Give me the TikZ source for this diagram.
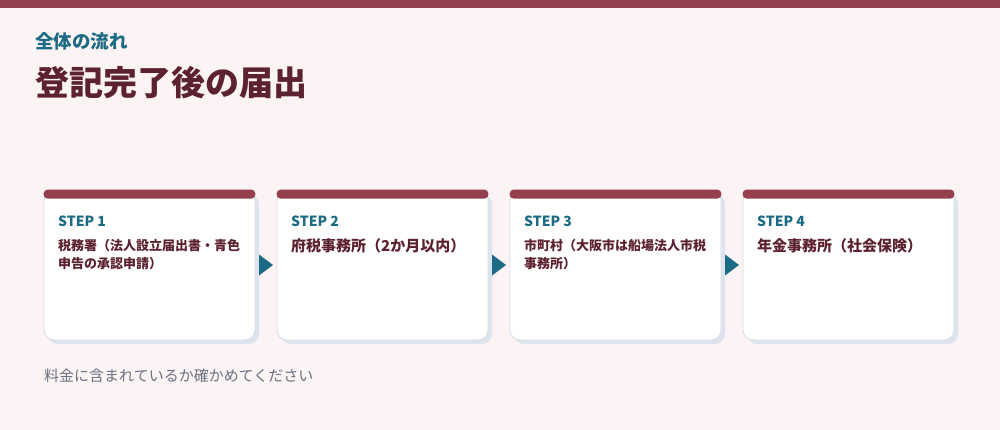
\documentclass[tikz,border=0pt]{standalone}
\usepackage{fontspec}
\setmainfont{Noto Sans CJK JP}
\usetikzlibrary{calc,shadows}
\definecolor{pagebg}{HTML}{FCF3F5}
\definecolor{barmaroon}{HTML}{943F4E}
\definecolor{titlemaroon}{HTML}{5C2230}
\definecolor{stepteal}{HTML}{1D6A85}
\definecolor{cardedge}{HTML}{D6DDE7}
\definecolor{cardshade}{HTML}{DDE4EE}
\definecolor{notegray}{HTML}{6B7280}
\tikzset{
  card/.style={draw=cardedge, line width=0.8pt, fill=white, rounded corners=10pt,
    minimum width=211pt, minimum height=150pt, inner sep=0pt,
    drop shadow={shadow xshift=4pt, shadow yshift=-4pt, fill=cardshade, opacity=1}},
  cardbar/.style={fill=barmaroon, rounded corners=4pt},
  steplabel/.style={anchor=base west, inner sep=0pt, text=stepteal,
    font=\fontsize{14}{16}\selectfont\bfseries},
  officetext/.style={anchor=base west, inner sep=0pt, text=titlemaroon, align=left,
    font=\fontsize{13}{17.5}\selectfont\bfseries},
  officebig/.style={officetext, font=\fontsize{15}{18}\selectfont\bfseries},
  flowarrow/.style={fill=stepteal}
}
\begin{document}
\begin{tikzpicture}[x=1pt,y=-1pt]
\useasboundingbox (0,0) rectangle (1000,430);
% page and top band
\fill[pagebg] (0,0) rectangle (1000,430);
\fill[barmaroon] (0,0) rectangle (1000,8);
% headings
\node[anchor=base west, inner sep=0pt, text=stepteal, font=\fontsize{18.5}{21}\selectfont\bfseries] (kicker) at (35,49) {全体の流れ};
\node[anchor=base west, inner sep=0pt, text=titlemaroon, font=\fontsize{34}{39}\selectfont\bfseries] (title) at (35,96) {登記完了後の届出};
% the four cards
\node[card] (c1) at (149.5,265) {};
\node[card] (c2) at (382.5,265) {};
\node[card] (c3) at (615.5,265) {};
\node[card] (c4) at (848.5,265) {};
% maroon bars on top of cards
\fill[cardbar] (c1.north west) rectangle ($(c1.north east)+(0,9)$);
\fill[cardbar] (c2.north west) rectangle ($(c2.north east)+(0,9)$);
\fill[cardbar] (c3.north west) rectangle ($(c3.north east)+(0,9)$);
\fill[cardbar] (c4.north west) rectangle ($(c4.north east)+(0,9)$);
% step labels
\node[steplabel] (s1) at (58,227) {STEP 1};
\node[steplabel] (s2) at (291,227) {STEP 2};
\node[steplabel] (s3) at (524,227) {STEP 3};
\node[steplabel] (s4) at (757,227) {STEP 4};
% offices (base of two-line texts is their last line)
\node[officetext] (o1) at (58,268) {税務署（法人設立届出書・青色\\申告の承認申請）};
\node[officebig] (o2) at (291,251.5) {府税事務所（2か月以内）};
\node[officetext] (o3) at (524,268) {市町村（大阪市は船場法人市税\\事務所）};
\node[officebig] (o4) at (757,251.5) {年金事務所（社会保険）};
% arrows between cards
\fill[flowarrow] ($(c1.east)!0.5!(c2.west)$) ++(-7,-10.5) -- ++(14,10.5) -- ++(-14,10.5) -- cycle;
\fill[flowarrow] ($(c2.east)!0.5!(c3.west)$) ++(-7,-10.5) -- ++(14,10.5) -- ++(-14,10.5) -- cycle;
\fill[flowarrow] ($(c3.east)!0.5!(c4.west)$) ++(-7,-10.5) -- ++(14,10.5) -- ++(-14,10.5) -- cycle;
% note
\node[anchor=base west, inner sep=0pt, text=notegray, font=\fontsize{15}{18}\selectfont] (note) at (44,381) {料金に含まれているか確かめてください};
\end{tikzpicture}
\end{document}
